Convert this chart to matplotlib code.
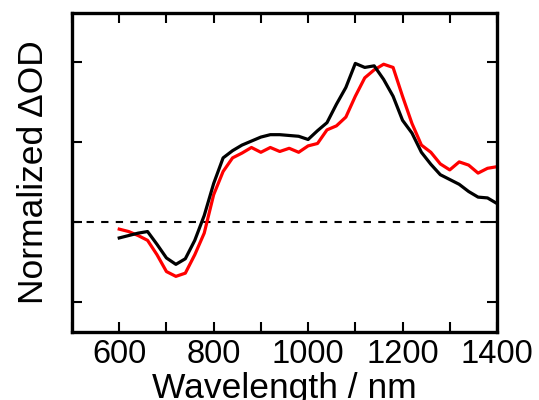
import matplotlib
matplotlib.use("Agg")
import matplotlib.pyplot as plt
from matplotlib.ticker import MultipleLocator

plt.rcParams['font.family'] = ['Liberation Sans', 'DejaVu Sans']

wavelength = [600, 620, 640, 660, 680, 700, 720, 740, 760, 780,
              800, 820, 840, 860, 880, 900, 920, 940, 960, 980,
              1000, 1020, 1040, 1060, 1080, 1100, 1120, 1140, 1160, 1180,
              1200, 1220, 1240, 1260, 1280, 1300, 1320, 1340, 1360, 1380, 1400]

black_series = [-0.20, -0.17, -0.14, -0.12, -0.28, -0.45, -0.53, -0.46, -0.23, 0.08,
                0.48, 0.80, 0.89, 0.96, 1.01, 1.06, 1.09, 1.09, 1.08, 1.07,
                1.03, 1.14, 1.24, 1.47, 1.68, 1.98, 1.93, 1.95, 1.78, 1.57,
                1.27, 1.11, 0.87, 0.72, 0.59, 0.53, 0.47, 0.38, 0.31, 0.30, 0.23]

red_series = [-0.09, -0.12, -0.17, -0.23, -0.41, -0.62, -0.68, -0.64, -0.41, -0.14,
              0.34, 0.63, 0.80, 0.86, 0.93, 0.87, 0.93, 0.88, 0.92, 0.87,
              0.95, 0.98, 1.15, 1.20, 1.31, 1.57, 1.80, 1.90, 1.97, 1.93,
              1.57, 1.23, 0.96, 0.87, 0.725, 0.65, 0.75, 0.71, 0.61, 0.67, 0.69]

xticks = [600, 800, 1000, 1200, 1400]

fig = plt.figure(figsize=(5.39, 4.0), dpi=100)
ax = fig.add_axes([0.1336, 0.17, 0.922 - 0.1336, 0.9675 - 0.17])

ax.axhline(0, color='black', lw=1.5, ls=(0, (3.5, 3.5)), zorder=1)
ax.plot(wavelength, red_series, color='#ff0000', lw=2.3, zorder=2)
ax.plot(wavelength, black_series, color='black', lw=2.3, zorder=3)

ax.set_xlim(500, 1400)
ax.set_ylim(-1.375, 2.61)
ax.set_xticks(xticks)
ax.set_xticklabels([str(t) for t in xticks])
ax.xaxis.set_minor_locator(MultipleLocator(100))
ax.set_yticks([-1, 0, 1, 2])
ax.set_yticklabels([])

ax.tick_params(axis='both', which='both', direction='in', top=True, right=True,
               length=7.5, width=1.5, labelsize=23.5, pad=5)
for s in ax.spines.values():
    s.set_linewidth(2.4)

ax.set_xlabel('Wavelength / nm', fontsize=25.5, labelpad=1.5)
ax.set_ylabel('Normalized \u0394OD', fontsize=25.5, labelpad=11)

fig.savefig('out.png', dpi=100)
